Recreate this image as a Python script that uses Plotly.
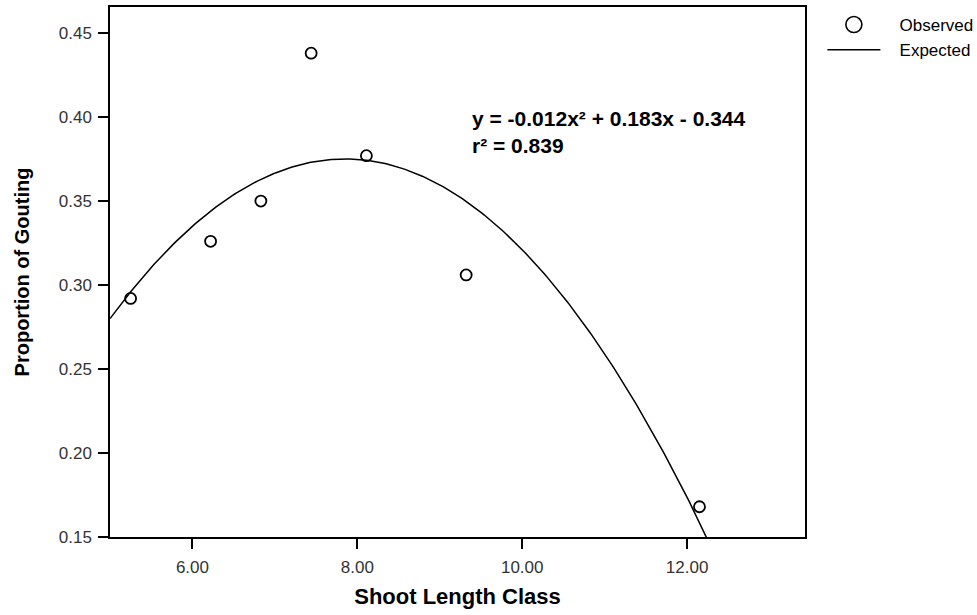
import numpy as np
import plotly.graph_objects as go

shoot_length = [5.25, 6.22, 6.83, 7.44, 8.11, 9.32, 12.15]
proportion = [0.292, 0.326, 0.350, 0.438, 0.377, 0.306, 0.168]

# Quadratic fit coefficients (unrounded estimate of the displayed equation)
fit_coef = [-0.0117, 0.1837, -0.346]
equation_text = "y = -0.012x² + 0.183x - 0.344<br>r² = 0.839"

x_ticks = [6, 8, 10, 12]
y_ticks = [0.15, 0.20, 0.25, 0.30, 0.35, 0.40, 0.45]

xs = np.linspace(5.0, 12.5, 300)
ys = np.polyval(fit_coef, xs)

font_family = "Liberation Sans, Arial, sans-serif"
pad = "\u00a0\u00a0\u00a0"

fig = go.Figure()
fig.add_trace(go.Scatter(
    x=shoot_length, y=proportion, mode="markers", name="Observed",
    marker=dict(symbol="circle-open", size=11, color="black", line=dict(width=1.8)),
    showlegend=False,
))
fig.add_trace(go.Scatter(
    x=[None], y=[None], mode="markers", name=pad + "Observed",
    marker=dict(symbol="circle-open", size=19, color="black", line=dict(width=1.6)),
))
fig.add_trace(go.Scatter(
    x=xs, y=ys, mode="lines", name=pad + "Expected",
    line=dict(color="black", width=1.5),
))

fig.add_annotation(
    x=9.37, y=0.391, xref="x", yref="y", xanchor="left", yanchor="middle",
    text="<b>" + equation_text + "</b>", showarrow=False, align="left",
    font=dict(family=font_family, size=21, color="black"),
)

axis_common = dict(
    showline=True, linecolor="black", linewidth=1.5, mirror=True,
    ticks="outside", ticklen=10, tickwidth=1.5, tickcolor="black",
    showgrid=False, zeroline=False,
    tickfont=dict(family=font_family, size=17, color="#333333"),
)

fig.update_layout(
    width=977, height=615,
    margin=dict(l=110, r=172, t=7, b=78, autoexpand=False),
    plot_bgcolor="white", paper_bgcolor="white",
    xaxis=dict(range=[5.0, 13.43], tickvals=x_ticks, tickformat=".2f",
               ticklabelstandoff=4,
               title=dict(text="<b>Shoot Length Class</b>", standoff=12,
                          font=dict(family=font_family, size=22, color="black")),
               **axis_common),
    yaxis=dict(range=[0.15, 0.4655], tickvals=y_ticks, tickformat=".2f",
               ticklabelstandoff=3,
               title=dict(text="<b>Proportion of Gouting</b>", standoff=24,
                          font=dict(family=font_family, size=20, color="black")),
               **axis_common),
    legend=dict(x=1.025, y=1.0, xanchor="left", yanchor="top",
                font=dict(family=font_family, size=17, color="black"),
                itemwidth=53, tracegroupgap=0, bgcolor="rgba(0,0,0,0)"),
)

fig.write_html("out.html")
